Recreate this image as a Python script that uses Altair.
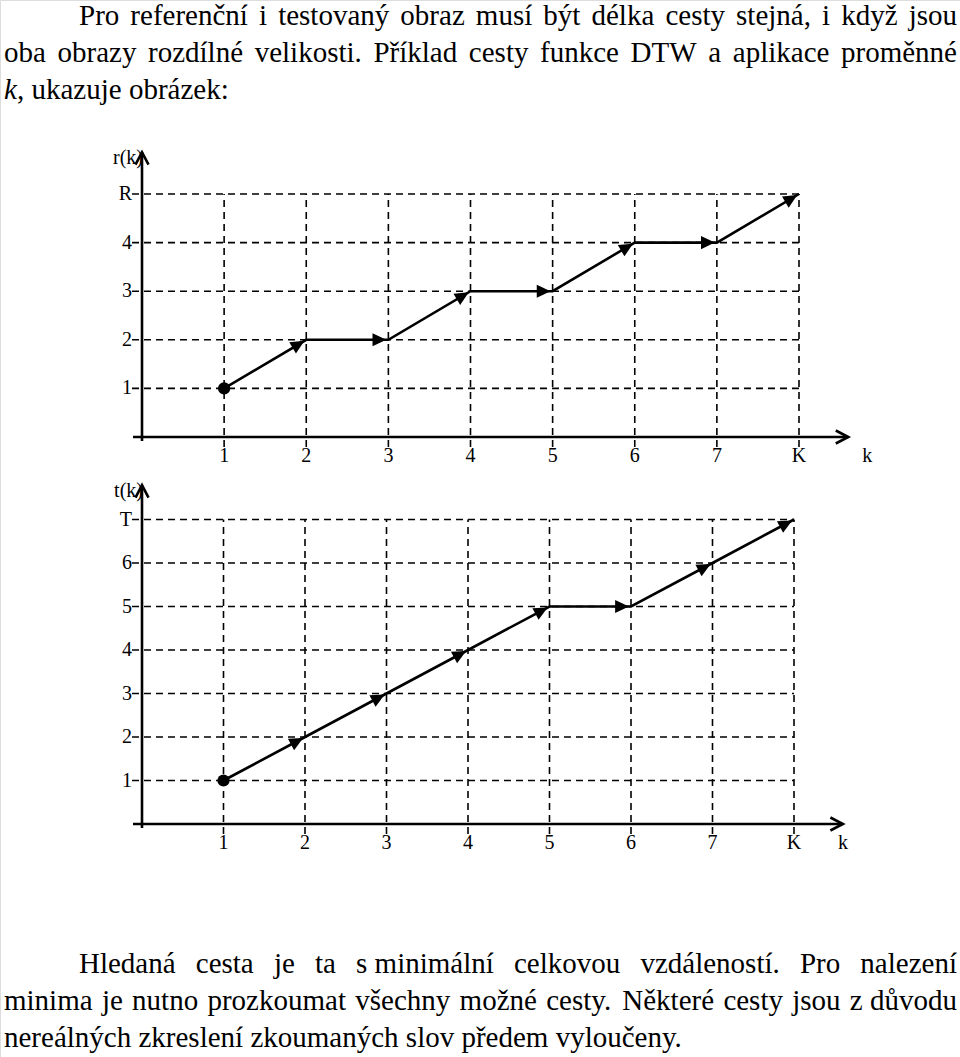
import math
import altair as alt
import pandas as pd

FONT = "'Liberation Serif', 'Times New Roman', serif"

# ---------------- data ----------------
K_VALUES = [1, 2, 3, 4, 5, 6, 7, 8]
X_TICK_LABELS = ["1", "2", "3", "4", "5", "6", "7", "K"]

R_PATH = [1, 2, 2, 3, 3, 4, 4, 5]
R_TICKS = [1, 2, 3, 4, 5]
R_TICK_LABELS = ["1", "2", "3", "4", "R"]

T_PATH = [1, 2, 3, 4, 5, 5, 6, 7]
T_TICKS = [1, 2, 3, 4, 5, 6, 7]
T_TICK_LABELS = ["1", "2", "3", "4", "5", "6", "T"]

TOP_LINES = [
    "Pro referenční i testovaný obraz musí být délka cesty stejná, i když jsou",
    "oba obrazy rozdílné velikosti. Příklad cesty funkce DTW a aplikace proměnné",
    ", ukazuje obrázek:",
]
TOP_MATH = "k"
BOTTOM_LINES = [
    "Hledaná cesta je ta s\u00a0minimální celkovou vzdáleností. Pro nalezení",
    "minima je nutno prozkoumat všechny možné cesty. Některé cesty jsou z\u00a0důvodu",
    "nereálných zkreslení zkoumaných slov předem vyloučeny.",
]

# ---------------- text layout helpers ----------------
FS = 29
W = {" ": 250, "\u00a0": 250, ",": 250, ".": 250, ":": 278,
     "a": 444, "b": 500, "c": 444, "d": 500, "e": 444, "f": 333, "g": 500,
     "h": 500, "i": 278, "j": 278, "k": 500, "l": 278, "m": 778, "n": 500,
     "o": 500, "p": 500, "q": 500, "r": 333, "s": 389, "t": 278, "u": 500,
     "v": 500, "w": 722, "x": 500, "y": 500, "z": 444,
     "á": 444, "é": 444, "í": 278, "ý": 500, "ů": 500, "č": 444, "ě": 444,
     "ň": 500, "ř": 333, "š": 389, "ž": 444, "ó": 500, "ú": 500,
     "D": 722, "H": 722, "N": 722, "P": 556, "T": 611, "W": 944}


def tw(s):
    return sum(W.get(c, 500) for c in s) * FS / 1000.0


def layout(line, x0, x1, y, justify):
    words = line.split(" ")
    widths = [tw(w) for w in words]
    if justify and len(words) > 1:
        gap = (x1 - x0 - sum(widths)) / (len(words) - 1)
    else:
        gap = tw(" ")
    rows, x = [], x0
    for w, wd in zip(words, widths):
        rows.append({"t": w, "px": x, "py": y})
        x += wd + gap
    return rows


LEFT, INDENT, RIGHT = 4, 79, 957
rows = []
rows += layout(TOP_LINES[0], INDENT, RIGHT, 25, True)
rows += layout(TOP_LINES[1], LEFT, RIGHT, 62, True)
rows += layout(TOP_LINES[2], LEFT + 13, RIGHT, 99, False)
rows += layout(BOTTOM_LINES[0], INDENT, RIGHT, 973, True)
rows += layout(BOTTOM_LINES[1], LEFT, RIGHT, 1010, True)
rows += layout(BOTTOM_LINES[2], LEFT, RIGHT, 1047, False)
text_df = pd.DataFrame(rows)
math_df = pd.DataFrame({"t": [TOP_MATH], "px": [LEFT], "py": [99]})

text_layer = alt.Chart(text_df).mark_text(
    align="left", baseline="alphabetic", font=FONT, fontSize=FS, color="black"
).encode(
    x=alt.X("px:Q", scale=None, axis=None),
    y=alt.Y("py:Q", scale=None, axis=None),
    text="t:N",
)
math_layer = alt.Chart(math_df).mark_text(
    align="left", baseline="alphabetic", font=FONT, fontSize=FS,
    fontStyle="italic", color="black"
).encode(
    x=alt.X("px:Q", scale=None, axis=None),
    y=alt.Y("py:Q", scale=None, axis=None),
    text="t:N",
)

HEAD = "M-0.3,0L-2.3,-0.95L-2.3,0.95Z"
CHEVRON = "M-1.25,-0.65L0,0L-1.25,0.65"


def panel(path, ticks, tick_labels, ymax, x_range, y_range, y_title, y_arrow, k_pos):
    xs = alt.Scale(domain=[0, 8], range=x_range, nice=False, zero=False)
    ys = alt.Scale(domain=[0, ymax], range=y_range, nice=False, zero=False)
    ux = (x_range[1] - x_range[0]) / 8.0
    uy = (y_range[0] - y_range[1]) / float(ymax)

    def X(f):
        return alt.X(f, type="quantitative", scale=xs, axis=None)

    def Y(f):
        return alt.Y(f, type="quantitative", scale=ys, axis=None)

    dash = dict(color="black", strokeWidth=1.6, strokeDash=[7, 5])
    hgrid = alt.Chart(pd.DataFrame({"y": ticks, "x0": -10 / ux, "x1": 8})).mark_rule(**dash).encode(
        x=X("x0"), x2="x1", y=Y("y"))
    vgrid = alt.Chart(pd.DataFrame({"k": K_VALUES, "y0": -10 / uy, "y1": ymax})).mark_rule(**dash).encode(
        x=X("k"), y=Y("y0"), y2="y1")

    xaxis = alt.Chart(pd.DataFrame({"x0": [-9 / ux], "x1": [8.6], "y": [0]})).mark_rule(
        color="black", strokeWidth=2.6).encode(x=X("x0"), x2="x1", y=Y("y"))
    yaxis = alt.Chart(pd.DataFrame({"x": [0], "y0": [-4 / uy], "y1": [y_arrow]})).mark_rule(
        color="black", strokeWidth=2.6).encode(x=X("x"), y=Y("y0"), y2="y1")
    arrows = alt.Chart(pd.DataFrame({"x": [8.6, 0], "y": [0, y_arrow], "a": [0, 270]})).mark_point(
        shape=CHEVRON, filled=False, size=400, strokeWidth=2.6, color="black", opacity=1
    ).encode(x=X("x"), y=Y("y"), angle=alt.Angle("a:Q", scale=None))

    pdf = pd.DataFrame({"k": K_VALUES, "v": path})
    line = alt.Chart(pdf).mark_line(color="black", strokeWidth=2.6).encode(
        x=X("k"), y=Y("v"), order="k:Q")

    heads = []
    for i in range(1, len(path)):
        dx = (K_VALUES[i] - K_VALUES[i - 1]) * ux
        dy = -(path[i] - path[i - 1]) * uy
        heads.append({"k": K_VALUES[i], "v": path[i],
                      "a": math.degrees(math.atan2(dy, dx)) % 360})
    head = alt.Chart(pd.DataFrame(heads)).mark_point(
        shape=HEAD, filled=True, size=190, color="black", opacity=1
    ).encode(x=X("k"), y=Y("v"), angle=alt.Angle("a:Q", scale=None))

    dot = alt.Chart(pdf.head(1)).mark_point(
        shape="circle", filled=True, size=150, color="black", opacity=1
    ).encode(x=X("k"), y=Y("v"))

    ylab = alt.Chart(pd.DataFrame({"x": 0, "y": ticks, "t": tick_labels})).mark_text(
        align="right", baseline="middle", font=FONT, fontSize=20, color="black", dx=-10
    ).encode(x=X("x"), y=Y("y"), text="t:N")
    xlab = alt.Chart(pd.DataFrame({"k": K_VALUES + [k_pos], "y": 0,
                                   "t": X_TICK_LABELS + ["k"],
                                   "d": [13] * 8 + [0]})).mark_text(
        align="center", baseline="middle", font=FONT, fontSize=20, color="black", dy=19
    ).encode(x=X("k"), y=Y("y"), text="t:N", xOffset=alt.XOffset("d:Q", scale=None))
    ytitle = alt.Chart(pd.DataFrame({"x": [0], "y": [y_arrow], "t": [y_title]})).mark_text(
        align="right", baseline="middle", font=FONT, fontSize=20, color="black", dx=1, dy=6
    ).encode(x=X("x"), y=Y("y"), text="t:N")

    return alt.layer(hgrid, vgrid, xaxis, yaxis, arrows, line, head, dot, ylab, xlab, ytitle)


top = panel(R_PATH, R_TICKS, R_TICK_LABELS, 5, [142, 799], [437, 194], "r(k)", 5.86, 8.83)
bottom = panel(T_PATH, T_TICKS, T_TICK_LABELS, 7, [142, 794], [824, 519.5], "t(k)", 7.79, 8.6)

chart = alt.layer(top, bottom, text_layer, math_layer).resolve_scale(
    x="independent", y="independent"
).properties(
    width=960, height=1057, padding=0,
    autosize=alt.AutoSizeParams(type="none"),
).configure_view(stroke=None).configure(background="white")

chart.save("out.html", embed_options={"renderer": "svg", "actions": False})
